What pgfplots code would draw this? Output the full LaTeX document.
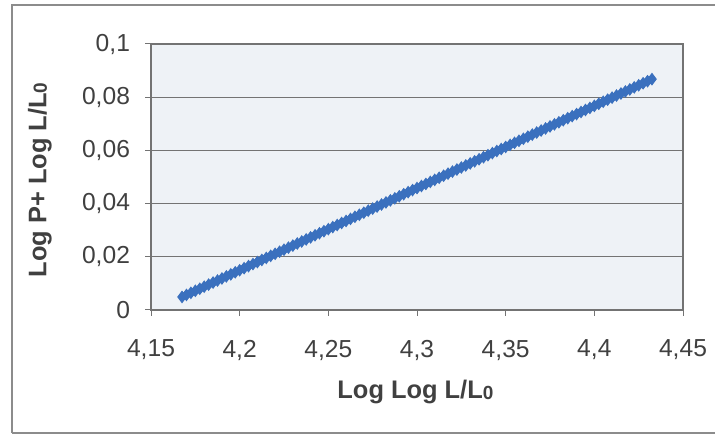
\documentclass[border=0pt]{standalone}
\usepackage{fontspec}
\setmainfont{Liberation Sans}
\usepackage{pgfplots}
\pgfplotsset{compat=1.18}
\definecolor{txt}{RGB}{64,64,64}
\definecolor{bgc}{RGB}{238,242,246}
\definecolor{lineblue}{RGB}{58,112,190}
\newcommand{\sub}[1]{\raisebox{-0.3pt}{\fontsize{9.5}{10}\selectfont #1}}
\begin{document}
\begin{tikzpicture}[x=1pt,y=1pt]
\useasboundingbox (0,0) rectangle (357.5,218.5);
\fill[white] (0,0) rectangle (357.5,218.5);
\draw[black!45, line width=0.6pt] (6,2) -- (6,216) -- (357.5,216);
\draw[black!45, line width=0.6pt] (6,2) -- (357.5,2);
\begin{axis}[
  at={(75.5pt,63.5pt)}, anchor=south west,
  scale only axis, width=266pt, height=133pt,
  xmin=4.15, xmax=4.45, ymin=0, ymax=0.1,
  xtick={4.15,4.2,4.25,4.3,4.35,4.4,4.45},
  ytick={0,0.02,0.04,0.06,0.08,0.1},
  scaled ticks=false,
  /pgf/number format/.cd, fixed, precision=2, use comma, 1000 sep={}, assume math mode=true,
  /pgfplots/.cd,
  axis background/.style={fill=bgc},
  ymajorgrids,
  grid style={black!55, line width=0.5pt},
  axis line style={black!55, line width=0.6pt},
  tick style={black!55, line width=0.5pt},
  major tick length=3pt,
  tick align=outside,
  xtick pos=bottom, ytick pos=left,
  ticklabel style={font=\fontsize{12.3}{14}\selectfont, text=txt},
  xticklabel style={yshift=-8.5pt},
  yticklabel style={xshift=-4pt},
  every axis x label/.style={at={(axis description cs:0.497,-0.308)}, anchor=center},
  every axis y label/.style={at={(axis description cs:-0.209,0.489)}, rotate=90, anchor=center},
  label style={font=\bfseries\fontsize{12.7}{14}\selectfont, text=txt},
  xlabel={Log Log L/L\sub{0}},
  ylabel={Log P+ Log L/L\sub{0}},
]
\addplot[color=lineblue, line width=3.6pt, mark=diamond*, mark size=2.8pt, mark options={fill=lineblue, draw=lineblue, line width=0.5pt}] coordinates {
(4.1675,0.0049) (4.1700,0.00567) (4.1725,0.00645) (4.1750,0.00722) (4.1775,0.00799)
(4.1800,0.00876) (4.1825,0.00954) (4.1850,0.01031) (4.1875,0.01108) (4.1900,0.01185)
(4.1925,0.01263) (4.1950,0.0134) (4.1975,0.01417) (4.2000,0.01494) (4.2025,0.01572)
(4.2050,0.01649) (4.2075,0.01726) (4.2100,0.01803) (4.2125,0.01881) (4.2150,0.01958)
(4.2175,0.02035) (4.2200,0.02112) (4.2225,0.0219) (4.2250,0.02267) (4.2275,0.02344)
(4.2300,0.02421) (4.2325,0.02499) (4.2350,0.02576) (4.2375,0.02653) (4.2400,0.0273)
(4.2425,0.02808) (4.2450,0.02885) (4.2475,0.02962) (4.2500,0.03039) (4.2525,0.03117)
(4.2550,0.03194) (4.2575,0.03271) (4.2600,0.03348) (4.2625,0.03426) (4.2650,0.03503)
(4.2675,0.0358) (4.2700,0.03657) (4.2725,0.03735) (4.2750,0.03812) (4.2775,0.03889)
(4.2800,0.03966) (4.2825,0.04044) (4.2850,0.04121) (4.2875,0.04198) (4.2900,0.04275)
(4.2925,0.04353) (4.2950,0.0443) (4.2975,0.04507) (4.3000,0.04584) (4.3025,0.04662)
(4.3050,0.04739) (4.3075,0.04816) (4.3100,0.04893) (4.3125,0.04971) (4.3150,0.05048)
(4.3175,0.05125) (4.3200,0.05202) (4.3225,0.0528) (4.3250,0.05357) (4.3275,0.05434)
(4.3300,0.05511) (4.3325,0.05589) (4.3350,0.05666) (4.3375,0.05743) (4.3400,0.0582)
(4.3425,0.05898) (4.3450,0.05975) (4.3475,0.06052) (4.3500,0.06129) (4.3525,0.06207)
(4.3550,0.06284) (4.3575,0.06361) (4.3600,0.06438) (4.3625,0.06516) (4.3650,0.06593)
(4.3675,0.0667) (4.3700,0.06747) (4.3725,0.06825) (4.3750,0.06902) (4.3775,0.06979)
(4.3800,0.07056) (4.3825,0.07134) (4.3850,0.07211) (4.3875,0.07288) (4.3900,0.07365)
(4.3925,0.07443) (4.3950,0.0752) (4.3975,0.07597) (4.4000,0.07674) (4.4025,0.07752)
(4.4050,0.07829) (4.4075,0.07906) (4.4100,0.07983) (4.4125,0.08061) (4.4150,0.08138)
(4.4175,0.08215) (4.4200,0.08292) (4.4225,0.0837) (4.4250,0.08447) (4.4275,0.08524)
(4.4300,0.08601) (4.4325,0.08679)
};
\end{axis}
\end{tikzpicture}
\end{document}
